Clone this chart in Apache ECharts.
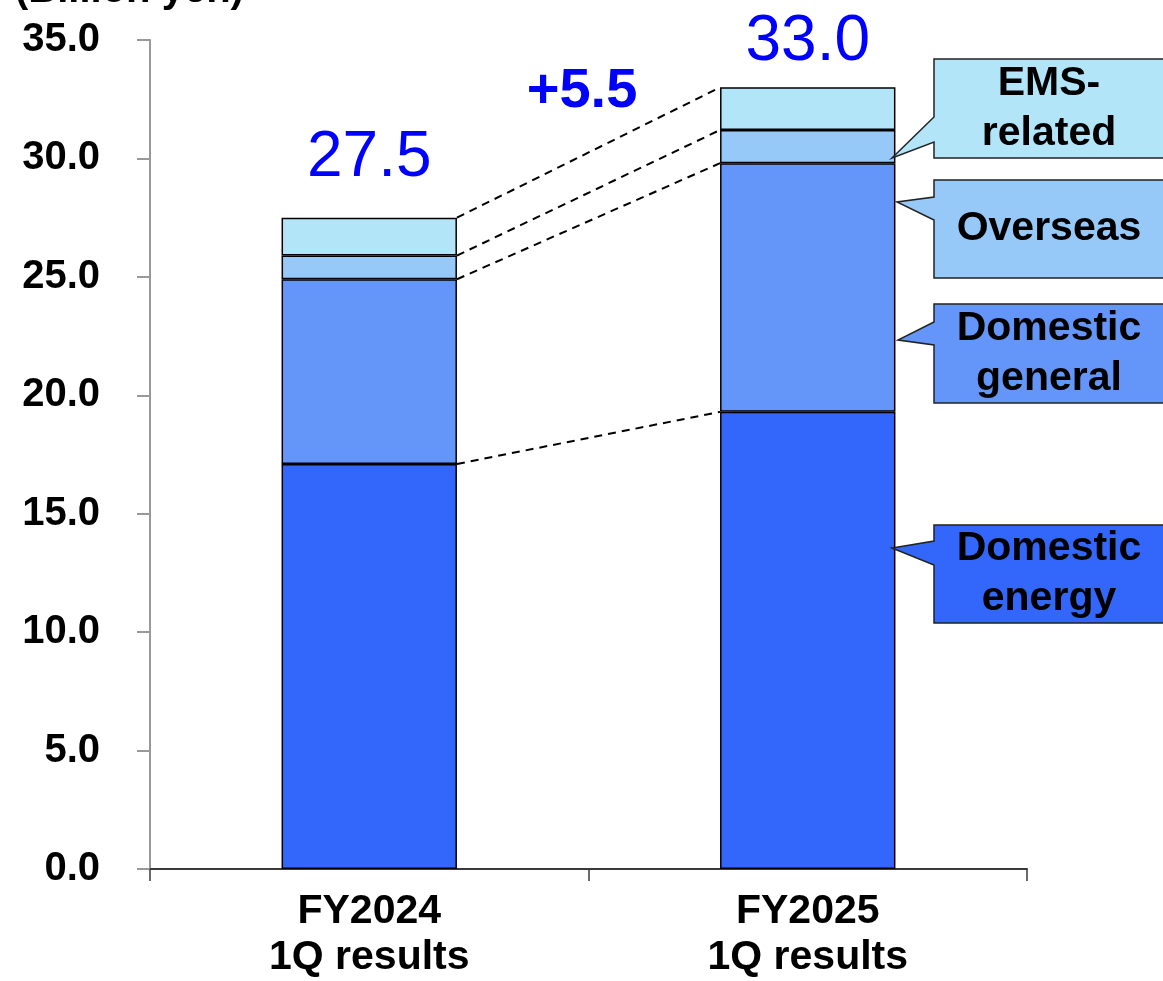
<!DOCTYPE html>
<html>
<head>
<meta charset="utf-8">
<title>Net sales by segment</title>
<script src="https://cdn.jsdelivr.net/npm/echarts@6/dist/echarts.min.js"></script>
<style>
  html, body { margin: 0; padding: 0; background: #ffffff; overflow: hidden; }
  #chart { width: 1163px; height: 981px; }
</style>
</head>
<body>
<div id="chart"></div>
<script>
// Quarterly results by segment (billion yen)
const categories = ['FY2024\n1Q results', 'FY2025\n1Q results'];
const domesticEnergy = [17.1, 19.3];
const domesticGeneral = [7.8, 10.5];
const overseas = [1.0, 1.4];
const emsRelated = [1.6, 1.8];
const totals = [27.5, 33.0];
const unitLabel = '(Billion yen)';
const segmentNames = ['Domestic energy', 'Domestic general', 'Overseas', 'EMS-related'];
const calloutTexts = ['EMS-\nrelated', 'Overseas', 'Domestic\ngeneral', 'Domestic\nenergy'];

const FONT = '"Liberation Sans", Arial, sans-serif';
const colors = {
  energy: '#3366FA',
  general: '#6495F8',
  overseas: '#96C8F8',
  ems: '#B3E5F8'
};

const chart = echarts.init(document.getElementById('chart'), null, { renderer: 'canvas' });

// cumulative boundaries of each stacked segment, used for the dashed connectors
const stacks = [domesticEnergy, domesticGeneral, overseas, emsRelated];
const boundaries = [];
let run = [0, 0];
stacks.forEach(s => {
  run = [run[0] + s[0], run[1] + s[1]];
  boundaries.push([0, +run[0].toFixed(2), +run[1].toFixed(2)]);
});

const barBorder = { borderColor: '#000', borderWidth: 1.5 };
const totalLabelGap = [27, 13];

function barSeries(name, values, color, extra) {
  return Object.assign({
    name: name,
    type: 'bar',
    stack: 'total',
    barWidth: '40%',
    data: values,
    itemStyle: Object.assign({ color: color }, barBorder),
    z: 3
  }, extra || {});
}

const delta = totals[1] - totals[0];

// callout boxes on the right (pointer tip, box edges)
const callouts = [
  { y0: 59, y1: 158, b0: 117, b1: 142, tipX: 892, tipY: 158, color: colors.ems },
  { y0: 180, y1: 278, b0: 197, b1: 220, tipX: 897, tipY: 202, color: colors.overseas },
  { y0: 304, y1: 403, b0: 322, b1: 345, tipX: 898, tipY: 340, color: colors.general },
  { y0: 525, y1: 623, b0: 541, b1: 565, tipX: 892, tipY: 548, color: colors.energy }
];
const boxLeft = 934, boxRight = 1175, textCenter = 1049;

const graphics = [];
callouts.forEach((c, i) => {
  graphics.push({
    type: 'polygon',
    shape: {
      points: [
        [boxLeft, c.y0], [boxRight, c.y0], [boxRight, c.y1], [boxLeft, c.y1],
        [boxLeft, c.b1], [c.tipX, c.tipY], [boxLeft, c.b0]
      ]
    },
    style: { fill: c.color, stroke: '#222', lineWidth: 1.5 },
    z: 10
  });
  graphics.push({
    type: 'text',
    x: textCenter,
    y: (c.y0 + c.y1) / 2,
    style: {
      text: calloutTexts[i],
      fill: '#000',
      font: 'bold 41px ' + FONT,
      align: 'center',
      verticalAlign: 'middle',
      lineHeight: 50
    },
    z: 11
  });
});

graphics.push({
  type: 'text',
  x: 15,
  y: -9,
  style: {
    text: unitLabel,
    fill: '#000',
    font: 'bold 40px ' + FONT,
    align: 'left',
    verticalAlign: 'middle'
  },
  z: 11
});

graphics.push({
  type: 'text',
  x: 582,
  y: 92,
  style: {
    text: (delta >= 0 ? '+' : '') + delta.toFixed(1),
    fill: '#0000FF',
    font: 'bold 56px ' + FONT,
    align: 'center',
    verticalAlign: 'middle'
  },
  z: 11
});

const option = {
  animation: false,
  backgroundColor: '#ffffff',
  grid: { left: 150, right: 136, top: 40, height: 837, containLabel: false },
  xAxis: {
    type: 'category',
    data: categories,
    boundaryGap: true,
    axisLine: { show: true, lineStyle: { color: '#3a3a3a', width: 2 } },
    axisTick: { show: true, length: 12, lineStyle: { color: '#3a3a3a', width: 1.5 } },
    axisLabel: {
      color: '#000',
      fontFamily: FONT,
      fontWeight: 'bold',
      fontSize: 41,
      lineHeight: 46,
      margin: 20
    },
    splitLine: { show: false }
  },
  yAxis: {
    type: 'value',
    min: 0,
    max: 35,
    interval: 5,
    axisLine: { show: true, lineStyle: { color: '#999', width: 2 } },
    axisTick: { show: true, inside: false, length: 13, lineStyle: { color: '#999', width: 2 } },
    axisLabel: {
      color: '#000',
      fontFamily: FONT,
      fontWeight: 'bold',
      fontSize: 40,
      margin: 50,
      formatter: v => v.toFixed(1)
    },
    splitLine: { show: false }
  },
  series: [
    barSeries(segmentNames[0], domesticEnergy, colors.energy),
    barSeries(segmentNames[1], domesticGeneral, colors.general),
    barSeries(segmentNames[2], overseas, colors.overseas),
    barSeries(segmentNames[3], emsRelated.map((v, i) => ({
      value: v,
      label: { distance: totalLabelGap[i] }
    })), colors.ems, {
      label: {
        show: true,
        position: 'top',
        formatter: p => totals[p.dataIndex].toFixed(1),
        color: '#0000FF',
        fontFamily: FONT,
        fontSize: 64,
        lineHeight: 64
      }
    }),
    {
      name: 'connectors',
      type: 'custom',
      data: boundaries,
      encode: { x: 0, y: [1, 2] },
      z: 2,
      silent: true,
      renderItem: function (params, api) {
        const half = api.size([1, 0])[0] * 0.2;
        const p0 = api.coord([0, api.value(1)]);
        const p1 = api.coord([1, api.value(2)]);
        return {
          type: 'line',
          shape: { x1: p0[0] + half, y1: p0[1], x2: p1[0] - half, y2: p1[1] },
          style: { stroke: '#000', lineWidth: 2, lineDash: [8, 6] }
        };
      }
    }
  ],
  graphic: graphics
};

chart.setOption(option);
</script>
</body>
</html>
